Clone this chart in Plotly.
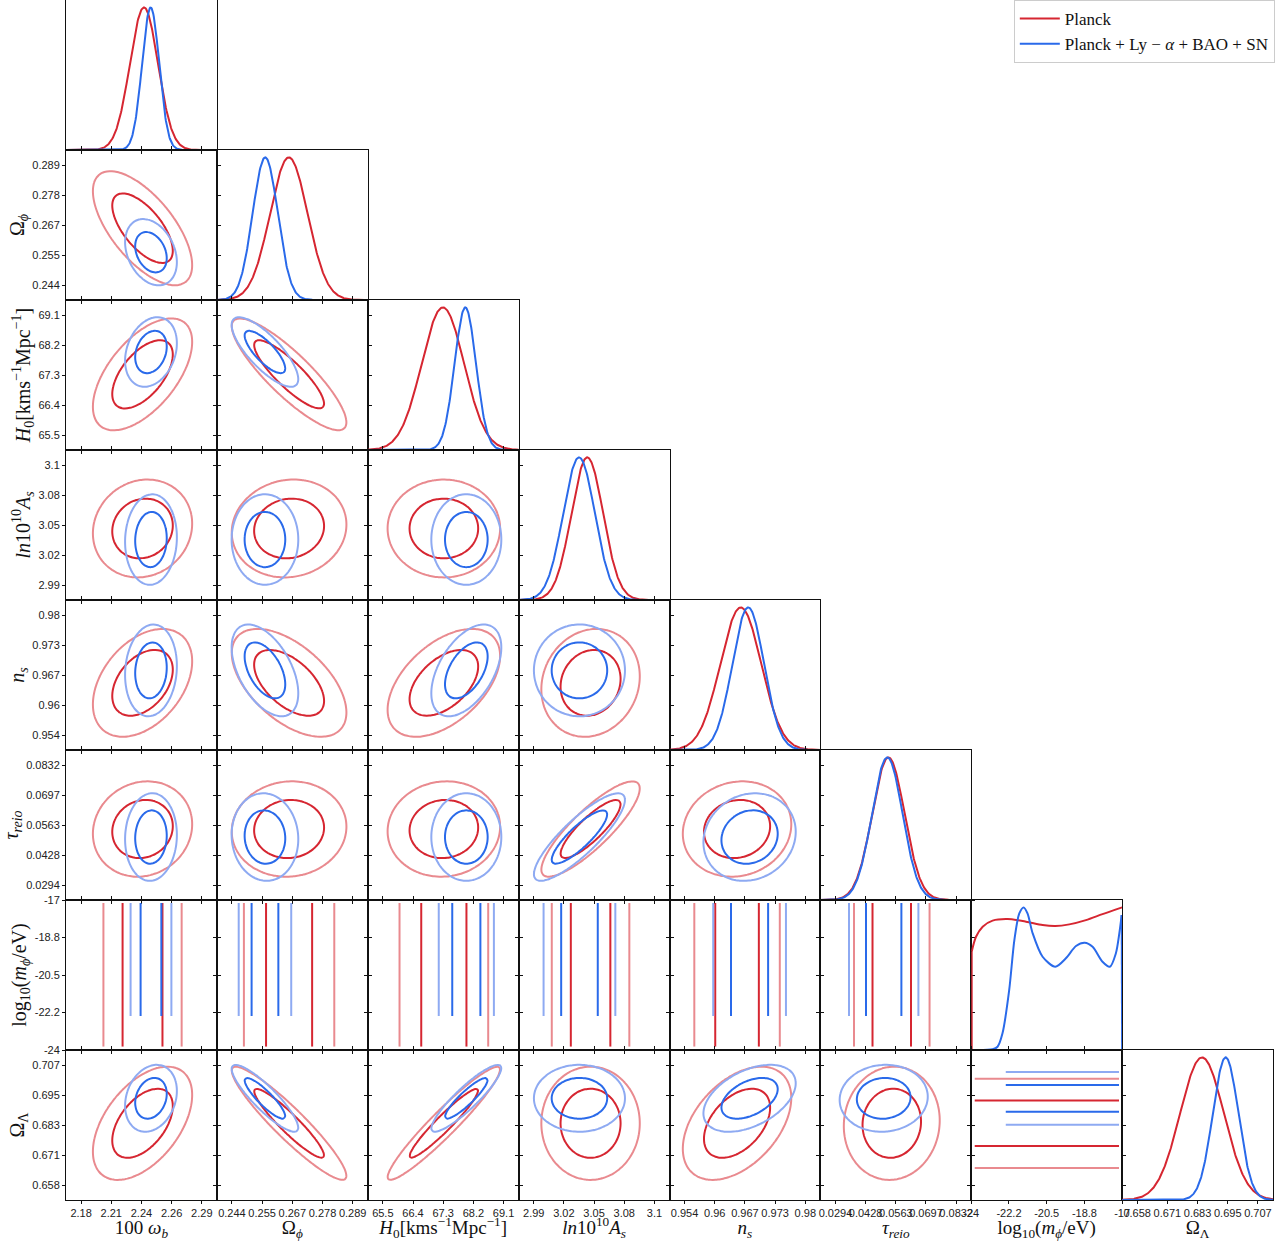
import numpy as np
import plotly.graph_objects as go

# ------------------------------------------------------------------ data
axis_titles = [
    "100 <i>ω</i><sub><i>b</i></sub>",
    "Ω<sub><i>ϕ</i></sub>",
    "<i>H</i><sub>0</sub>[kms<sup>−1</sup>Mpc<sup>−1</sup>]",
    "<i>ln</i>10<sup>10</sup><i>A</i><sub><i>s</i></sub>",
    "<i>n</i><sub><i>s</i></sub>",
    "<i>τ</i><sub><i>reio</i></sub>",
    "log<sub>10</sub>(<i>m</i><sub><i>ϕ</i></sub>/eV)",
    "Ω<sub>Λ</sub>",
]
range_lo = [2.16775, 0.238475, 65.05, 2.97525, 0.95055, 0.022675, -24.0, 0.652275]
range_hi = [2.30525, 0.294725, 69.55, 3.11775, 0.98305, 0.089925, -17.0, 0.713525]
tick_values = [
    [2.1815, 2.209, 2.2365, 2.264, 2.2915],
    [0.2441, 0.25535, 0.2666, 0.27785, 0.2891],
    [65.5, 66.4, 67.3, 68.2, 69.1],
    [2.9895, 3.018, 3.0465, 3.075, 3.1035],
    [0.9538, 0.9603, 0.9668, 0.9733, 0.9798],
    [0.0294, 0.04285, 0.0563, 0.06975, 0.0832],
    [-24.0, -22.25, -20.5, -18.75, -17.0],
    [0.6584, 0.67065, 0.6829, 0.69515, 0.7074],
]
tick_labels = [
    ["2.18", "2.21", "2.24", "2.26", "2.29"],
    ["0.244", "0.255", "0.267", "0.278", "0.289"],
    ["65.5", "66.4", "67.3", "68.2", "69.1"],
    ["2.99", "3.02", "3.05", "3.08", "3.1"],
    ["0.954", "0.96", "0.967", "0.973", "0.98"],
    ["0.0294", "0.0428", "0.0563", "0.0697", "0.0832"],
    ["-24", "-22.2", "-20.5", "-18.8", "-17"],
    ["0.658", "0.671", "0.683", "0.695", "0.707"],
]
LOGM = 6  # index of the flat (non-Gaussian) parameter

dataset_names = ["Planck", "Planck + Ly − <i>α</i> + BAO + SN"]

# 2D posterior summaries (mean, width, correlations)
planck_mean2d = [2.2375, 0.2654, 67.32, 3.0432, 0.9651, 0.0545, None, 0.6836]
planck_sigma2d = [0.0182, 0.0086, 0.675, 0.0187, 0.0047, 0.0086, None, 0.0093]
planck_rho = [
    [],
    [-0.65],
    [0.58, -0.86],
    [0.10, 0.08, 0.0],
    [0.40, -0.55, 0.50, 0.12],
    [0.10, 0.05, 0.05, 0.85, 0.10],
    [None, None, None, None, None, None],
    [0.50, -0.93, 0.95, 0.0, 0.45, 0.05, None],
]
planck_logm_extent = [-23.85, -17.14]

comb_mean2d = [2.2452, 0.2564, 67.99, 3.0327, 0.9678, 0.0509, None, 0.6938]
comb_sigma2d = [0.0095, 0.0050, 0.42, 0.0173, 0.0040, 0.0079, None, 0.0055]
comb_rho = [
    [],
    [-0.30],
    [0.25, -0.78],
    [0.05, 0.0, 0.0],
    [0.10, -0.50, 0.50, 0.0],
    [0.05, -0.05, 0.0, 0.85, 0.12],
    [None, None, None, None, None, None],
    [0.22, -0.88, 0.90, 0.0, 0.45, 0.05, None],
]
comb_logm_extent = [-22.41, -17.14]

# 1D marginals (peak position and width)
planck_peak = [2.2388, 0.2653, 67.29, 3.0401, 0.9659, 0.0530, None, 0.6847]
planck_sigma1d = [0.0128, 0.0070, 0.633, 0.0150, 0.0044, 0.0072, None, 0.0089]
comb_peak = [2.2449, 0.2565, 67.96, 3.0323, 0.9675, 0.0525, None, 0.6943]
comb_sigma1d = [0.0078, 0.0047, 0.32, 0.0150, 0.0034, 0.0068, None, 0.0052]

# log10(m_phi/eV) 1D marginal points
logm_planck_x = [-23.98, -23.78, -23.47, -23.01, -22.31, -21.46, -20.69, -20.10, -19.45, -18.68, -17.91, -17.0]
logm_planck_p = [0.689, 0.794, 0.865, 0.907, 0.918, 0.900, 0.876, 0.869, 0.881, 0.911, 0.953, 1.0]
logm_comb_x = [-24.0, -23.01, -22.78, -22.55, -22.24, -22.0, -21.77, -21.57, -21.39, -21.15, -20.69, -20.10,
               -19.61, -19.14, -18.74, -18.37, -17.91, -17.57, -17.29, -17.13, -17.02]
logm_comb_p = [0.0, 0.005, 0.023, 0.117, 0.42, 0.771, 0.958, 1.0, 0.958, 0.818, 0.654, 0.584,
               0.643, 0.729, 0.752, 0.724, 0.619, 0.584, 0.678, 0.818, 0.946]

# contour levels (delta chi^2): 2D 68/95 and 1D 68/95
levels_2d = [2.30, 6.18]
levels_1d = [1.0, 3.84]

# ------------------------------------------------------------------ style
RED = "#d62631"
RED_L = "#e98a8f"
BLUE = "#2a6aea"
BLUE_L = "#8eaaf2"
dark_cols = [RED, BLUE]
light_cols = [RED_L, BLUE_L]

datasets = [
    dict(mean=planck_mean2d, sig=planck_sigma2d, rho=planck_rho, ext=planck_logm_extent,
         peak=planck_peak, sig1=planck_sigma1d, lx=logm_planck_x, lp=logm_planck_p),
    dict(mean=comb_mean2d, sig=comb_sigma2d, rho=comb_rho, ext=comb_logm_extent,
         peak=comb_peak, sig1=comb_sigma1d, lx=logm_comb_x, lp=logm_comb_p),
]

N = 8
NG = 60
TICKFONT_X = dict(family="Liberation Sans, Arial", size=11, color="#222")
TICKFONT_Y = dict(family="Liberation Sans, Arial", size=11, color="#222")
TITLEFONT_X = dict(family="Liberation Serif, DejaVu Serif, serif", size=19, color="#111")
TITLEFONT_Y = dict(family="Liberation Serif, DejaVu Serif, serif", size=20, color="#111")

fig = go.Figure()
layout = {}


def axname(k, kind):
    return f"{kind}{'' if k == 1 else k}"


def add_contour(xg, yg, z, level, color, xa, ya):
    fig.add_trace(go.Contour(
        x=xg, y=yg, z=z, xaxis=xa, yaxis=ya,
        contours=dict(start=level, end=level, size=1, coloring="none"),
        line=dict(color=color, width=2, smoothing=1),
        showscale=False, hoverinfo="skip", showlegend=False,
    ))


k = 0
for r in range(N):
    for c in range(r + 1):
        k += 1
        xa, ya = axname(k, "x"), axname(k, "y")
        xdom = [c / N, (c + 1) / N]
        ydom = [1 - (r + 1) / N, 1 - r / N]
        diag = (r == c)

        if diag:
            for d, ds in enumerate(datasets):
                if c == LOGM:
                    fig.add_trace(go.Scatter(x=ds["lx"], y=ds["lp"], mode="lines", xaxis=xa, yaxis=ya,
                                             line=dict(color=dark_cols[d], width=2, shape="spline", smoothing=0.8),
                                             showlegend=False, hoverinfo="skip", cliponaxis=False))
                    if d == 0:
                        ex, ey = [ds["lx"][0], ds["lx"][0]], [0, ds["lp"][0]]
                    else:
                        ex, ey = [ds["lx"][-1], range_hi[LOGM]], [ds["lp"][-1], 0]
                    fig.add_trace(go.Scatter(x=ex, y=ey, mode="lines", xaxis=xa, yaxis=ya,
                                             line=dict(color=dark_cols[d], width=2),
                                             showlegend=False, hoverinfo="skip", cliponaxis=False))
                else:
                    xs = np.linspace(range_lo[c], range_hi[c], 300)
                    ys = np.exp(-0.5 * ((xs - ds["peak"][c]) / ds["sig1"][c]) ** 2)
                    fig.add_trace(go.Scatter(x=xs, y=ys, mode="lines", xaxis=xa, yaxis=ya,
                                             line=dict(color=dark_cols[d], width=2),
                                             name=dataset_names[d], showlegend=(r == 0),
                                             hoverinfo="skip"))
        else:
            for d, ds in enumerate(datasets):
                if r == LOGM:
                    xg = np.linspace(range_lo[c], range_hi[c], NG)
                    yg = np.linspace(ds["ext"][0], ds["ext"][1], 12)
                    X, Y = np.meshgrid(xg, yg)
                    z = ((X - ds["mean"][c]) / ds["sig"][c]) ** 2
                    levs = levels_1d
                elif c == LOGM:
                    xg = np.linspace(ds["ext"][0], ds["ext"][1], 12)
                    yg = np.linspace(range_lo[r], range_hi[r], NG)
                    X, Y = np.meshgrid(xg, yg)
                    z = ((Y - ds["mean"][r]) / ds["sig"][r]) ** 2
                    levs = levels_1d
                else:
                    xg = np.linspace(range_lo[c], range_hi[c], NG)
                    yg = np.linspace(range_lo[r], range_hi[r], NG)
                    X, Y = np.meshgrid(xg, yg)
                    dx = (X - ds["mean"][c]) / ds["sig"][c]
                    dy = (Y - ds["mean"][r]) / ds["sig"][r]
                    rho = ds["rho"][r][c]
                    z = (dx ** 2 - 2 * rho * dx * dy + dy ** 2) / (1 - rho ** 2)
                    levs = levels_2d
                z = np.round(np.minimum(z, 12.0), 3)
                add_contour(xg, yg, z, levs[1], light_cols[d], xa, ya)
                add_contour(xg, yg, z, levs[0], dark_cols[d], xa, ya)

        # ---- axes
        xax = dict(domain=xdom, anchor=ya, range=[range_lo[c], range_hi[c]], automargin=False,
                   showgrid=False, zeroline=False, showline=True, linecolor="#111", linewidth=1,
                   ticks="outside", ticklen=3, tickwidth=1, tickcolor="#111", tickangle=0,
                   tickvals=tick_values[c], ticktext=tick_labels[c],
                   showticklabels=(r == N - 1), tickfont=TICKFONT_X,
                   mirror=True if diag else "ticks", fixedrange=True)
        if r == N - 1:
            xax["title"] = dict(text=axis_titles[c], font=TITLEFONT_X, standoff=0)
        if diag:
            yax = dict(domain=ydom, anchor=xa, range=[0, 1.052], showgrid=False, zeroline=False,
                       automargin=False,
                       showline=True, linecolor="#111", linewidth=1, mirror=True,
                       ticks="", showticklabels=False, fixedrange=True)
        else:
            yax = dict(domain=ydom, anchor=xa, range=[range_lo[r], range_hi[r]], automargin=False,
                       showgrid=False, zeroline=False, showline=True, linecolor="#111", linewidth=1,
                       ticks="outside", ticklen=3, tickwidth=1, tickcolor="#111",
                       tickvals=tick_values[r], ticktext=tick_labels[r],
                       showticklabels=(c == 0), tickfont=TICKFONT_Y,
                       mirror="ticks", fixedrange=True)
            if c == 0:
                yax["title"] = dict(text=axis_titles[r], font=TITLEFONT_Y, standoff=2)
        layout[axname(k, "xaxis")] = xax
        layout[axname(k, "yaxis")] = yax

fig.update_layout(**layout)
fig.update_layout(
    width=1287, height=1241,
    margin=dict(l=66, r=14, t=0, b=41, autoexpand=False),
    paper_bgcolor="white", plot_bgcolor="white",
    showlegend=True,
    legend=dict(x=1.0015, y=1.0, xanchor="right", yanchor="top",
                bgcolor="white", bordercolor="#cccccc", borderwidth=1,
                font=dict(family="Liberation Serif, DejaVu Serif, serif", size=17, color="#111"),
                itemwidth=40, tracegroupgap=0),
)
fig.write_html("out.html", config={"displayModeBar": False},
               post_script="document.body.style.margin='0px';document.body.style.padding='0px';")
